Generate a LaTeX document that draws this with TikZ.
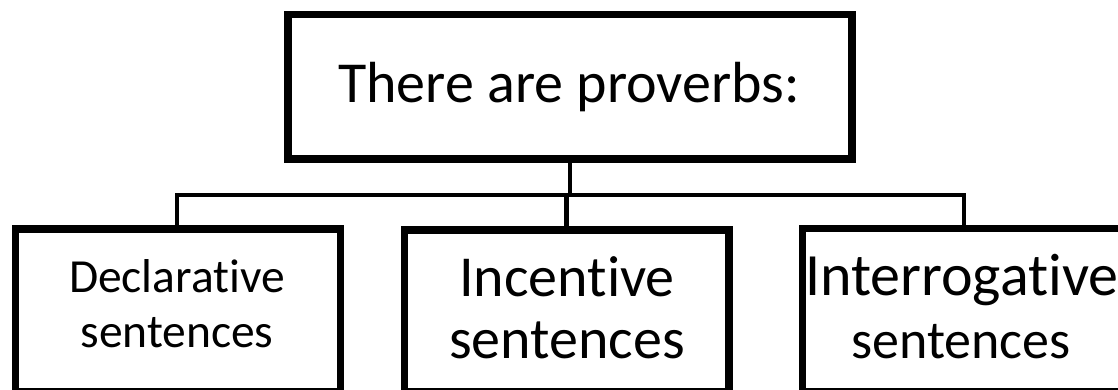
\documentclass[tikz,border=0pt]{standalone}
\usepackage{fontspec}
\setmainfont{Carlito}[RawFeature={-liga}]
\usetikzlibrary{shadows}
\begin{document}
\begin{tikzpicture}[x=1pt,y=-1pt,
  box/.style={draw=black, line width=7.5pt, fill=white, rectangle, inner sep=0pt,
    drop shadow={shadow xshift=2pt, shadow yshift=-2pt, opacity=0.18, fill=black}},
  conn/.style={draw=black, line width=4.5pt},
  txt/.style={anchor=base, inner sep=0pt, outer sep=0pt, text=black},
  big/.style={font=\fontsize{58}{70}\selectfont},
  mid/.style={font=\fontsize{47.5}{56}\selectfont}]
\useasboundingbox (0,0) rectangle (1118,389);
\fill[white] (0,0) rectangle (1118,389);
% boxes
\node[box, minimum width=564pt, minimum height=144.5pt] (top) at (570,86.75) {};
\node[box, minimum width=325pt, minimum height=162.5pt] (dec) at (178,310.25) {};
\node[box, minimum width=324.5pt, minimum height=161.5pt] (inc) at (566.75,310.75) {};
\node[box, minimum width=325pt, minimum height=163pt] (int) at (965,310) {};
% bus coordinates
\coordinate (busL) at (177,195);
\coordinate (busM) at (566.5,195);
\coordinate (busR) at (964,195);
\coordinate (busT) at (570,195);
% connectors
\draw[conn] (top.south) -- (busT);
\draw[conn] (busL |- dec.north) -- (busL) -- (busR) -- (busR |- int.north);
\draw[conn] (busM) -- (busM |- inc.north);
% texts
\node[txt, big] (t0) at (569,102.5) {There are proverbs:};
\node[txt, mid] (d1) at (177,292) {Declarative};
\node[txt, mid] (d2) at (177,347) {sentences};
\node[txt, big] (i1) at (567,296.5) {Incentive};
\node[txt, big] (i2) at (567,358) {sentences};
\node[txt, font=\fontsize{60}{70}\selectfont, anchor=base west] (r1) at (805,295) {Interrogative};
\node[txt, font=\fontsize{54}{64}\selectfont] (r2) at (961,358) {sentences};
\end{tikzpicture}
\end{document}
